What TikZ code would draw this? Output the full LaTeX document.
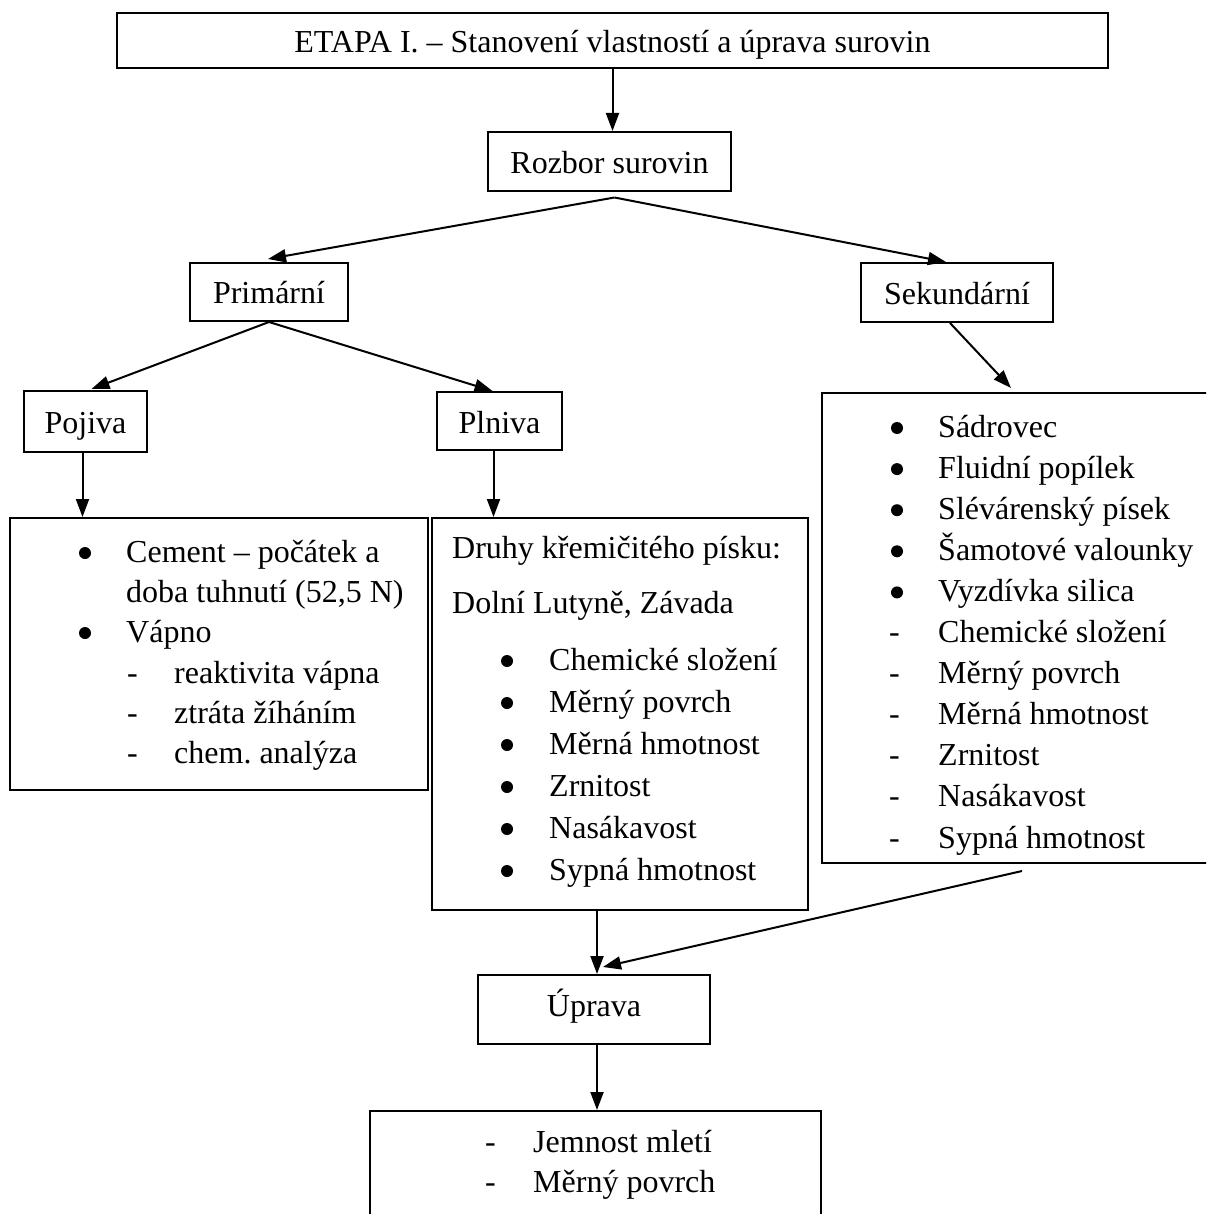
\documentclass[tikz,border=0pt]{standalone}
\usepackage{fontspec}
\setmainfont{Liberation Serif}
\usetikzlibrary{arrows.meta,calc}
\frenchspacing
\begin{document}
\begin{tikzpicture}[x=1pt,y=-1pt,
  font=\fontsize{32}{40}\selectfont\frenchspacing,
  box/.style={draw,line width=2pt,inner sep=0pt,text height=24pt,text depth=0pt},
  conn/.style={line width=2pt,-{Triangle[length=18pt,width=13pt]}},
  lbl/.style={anchor=base west,inner sep=0pt},
  dot/.style={radius=6pt}]
\useasboundingbox (0,0) rectangle (1206,1214);
\clip (0,0) rectangle (1206,1214);

% boxes
\node[box,minimum width=991pt,minimum height=55pt] (title) at (612.5,40.5) {ETAPA I. – Stanovení vlastností a úprava surovin};
\node[box,minimum width=243pt,minimum height=59pt] (rozbor) at (609.5,161.5) {Rozbor surovin};
\node[box,minimum width=158pt,minimum height=58pt] (prim) at (269,292) {Primární};
\node[box,minimum width=192pt,minimum height=59pt] (sek) at (957,292.5) {Sekundární};
\node[box,minimum width=123pt,minimum height=61pt] (pojiva) at (85.5,421.5) {Pojiva};
\node[box,minimum width=125pt,minimum height=58pt] (plniva) at (499.5,421) {Plniva};
\node[box,minimum width=418pt,minimum height=272pt] (pojlist) at (219,654) {};
\node[box,minimum width=376pt,minimum height=392pt] (plnlist) at (620,714) {};
\node[box,minimum width=398pt,minimum height=470pt] (seklist) at (1021,628) {};
\node[box,text height=13pt,minimum width=232pt,minimum height=69pt] (uprava) at (594,1009.5) {Úprava};
\node[box,minimum width=451pt,minimum height=149pt] (bottom) at (595.5,1185.5) {};

% Pojiva list
\fill (85,553) circle[dot];
\node[lbl] (c1) at (126,562) {Cement – počátek a};
\node[lbl] (c2) at (126,602) {doba tuhnutí (52,5 N)};
\fill (85,633) circle[dot];
\node[lbl] (c3) at (126,642) {Vápno};
\foreach \t [count=\i] in {reaktivita vápna, ztráta žíháním, chem. analýza} {
  \node[lbl] (pd\i) at (127,{683+40*(\i-1)}) {-};
  \node[lbl] (pt\i) at (174,{683+40*(\i-1)}) {\t};
}

% Plniva list
\node[lbl] (ph1) at (452,558) {Druhy křemičitého písku:};
\node[lbl] (ph2) at (452,613) {Dolní Lutyně, Závada};
\foreach \t [count=\i] in {Chemické složení, Měrný povrch, Měrná hmotnost, Zrnitost, Nasákavost, Sypná hmotnost} {
  \fill (507,{661+42*(\i-1)}) circle[dot];
  \node[lbl] (pl\i) at (549,{670+42*(\i-1)}) {\t};
}

% Sekundarni list
\foreach \t [count=\i] in {Sádrovec, Fluidní popílek, Slévárenský písek, Šamotové valounky, Vyzdívka silica} {
  \fill (897,{428+41.1*(\i-1)}) circle[dot];
  \node[lbl] (sb\i) at (938,{437+41.1*(\i-1)}) {\t};
}
\foreach \t [count=\i] in {Chemické složení, Měrný povrch, Měrná hmotnost, Zrnitost, Nasákavost, Sypná hmotnost} {
  \node[lbl] (sdd\i) at (889,{437+41.1*(\i+4)}) {-};
  \node[lbl] (sd\i) at (938,{437+41.1*(\i+4)}) {\t};
}

% bottom list
\node[lbl] (bd1) at (485,1152) {-};
\node[lbl] (bt1) at (533,1152) {Jemnost mletí};
\node[lbl] (bd2) at (485,1192) {-};
\node[lbl] (bt2) at (533,1192) {Měrný povrch};

% connectors
\draw[conn] (title.south) -- (title.south |- rozbor.north);
\coordinate (rs) at ($(rozbor.south)+(5,5.5)$);
\draw[conn] (rs) -- ($(prim.north)+(-1,-3)$);
\draw[conn] (rs) -- ($(sek.north)+(-11,0)$);
\draw[conn] (prim.south) -- ($(pojiva.north)+(6,-1)$);
\draw[conn] (prim.south) -- ($(plniva.north)+(-7,0)$);
\draw[conn] ($(sek.south)+(-7,0)$) -- ($(seklist.north west)+(190,-4)$);
\coordinate (pjs) at ($(pojiva.south)+(-3,0)$);
\draw[conn] (pjs) -- (pjs |- pojlist.north);
\coordinate (pls) at ($(plniva.south)+(-6,0)$);
\draw[conn] (pls) -- (pls |- plnlist.north);
\coordinate (upin) at ($(uprava.north)+(3,0)$);
\draw[conn] (upin |- plnlist.south) -- (upin);
\coordinate (sko) at ($(seklist.south west)+(201,7)$);
\draw[conn] (sko) -- ($(uprava.north)+(9,-7)$);
\coordinate (upout) at ($(uprava.south)+(3,0)$);
\draw[conn] (upout) -- (upout |- bottom.north);
\end{tikzpicture}
\end{document}
